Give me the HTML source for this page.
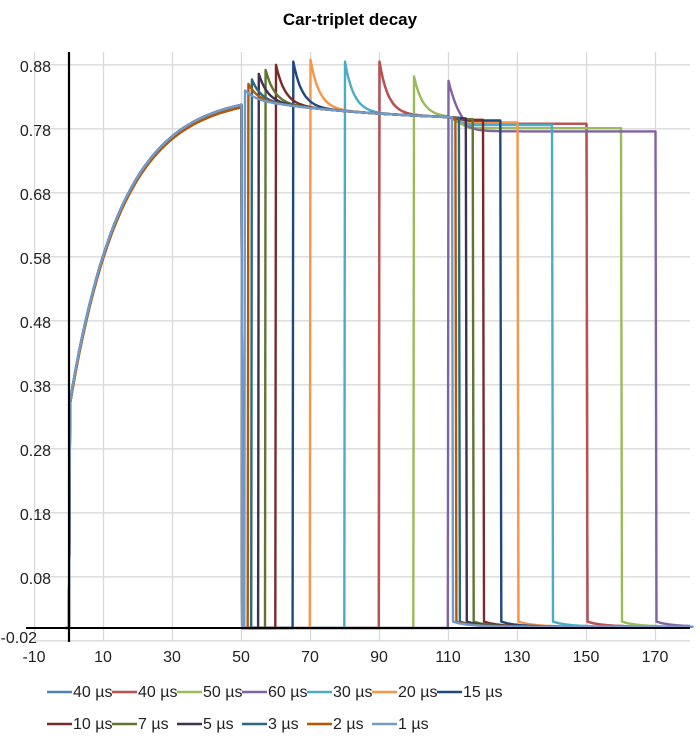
<!DOCTYPE html>
<html><head><meta charset="utf-8"><style>
html,body{margin:0;padding:0;background:#fff;}
svg{display:block;font-family:"Liberation Sans",Arial,sans-serif;}
</style></head><body>
<svg id="s" width="700" height="746" viewBox="0 0 700 746" xmlns="http://www.w3.org/2000/svg">
<text x="350" y="25" text-anchor="middle" font-size="17" font-weight="bold" fill="#000">Car-triplet decay</text>
<g id="grid" stroke="#d9d9d9" stroke-width="1.3"></g>
<g id="series" fill="none" stroke-width="2.4" stroke-linejoin="round"></g>
<line x1="69" y1="52" x2="69" y2="642" stroke="#000" stroke-width="2.2"/>
<line x1="26" y1="628" x2="690" y2="628" stroke="#000" stroke-width="2"/>
<g font-size="16" fill="#222" text-anchor="end">
<text x="51" y="72">0.88</text><text x="51" y="136">0.78</text><text x="51" y="200">0.68</text>
<text x="51" y="264">0.58</text><text x="51" y="328">0.48</text><text x="51" y="392">0.38</text>
<text x="51" y="456">0.28</text><text x="51" y="520">0.18</text><text x="51" y="584">0.08</text>
<text x="37" y="643">-0.02</text>
</g>
<g font-size="16" fill="#222" text-anchor="middle">
<text x="34" y="662">-10</text><text x="103" y="662">10</text><text x="172" y="662">30</text>
<text x="241" y="662">50</text><text x="310" y="662">70</text><text x="379" y="662">90</text>
<text x="448" y="662">110</text><text x="517" y="662">130</text><text x="586" y="662">150</text>
<text x="655" y="662">170</text>
</g>
<g id="legend" font-size="16" fill="#222"></g>
</svg>
<script>
var X=function(v){return 69+3.45*v;}, Y=function(v){return 628-640*v;};
var g=document.getElementById('grid'),h='';
for(var v=-10;v<=170;v+=20){h+='<line x1="'+X(v)+'" y1="52" x2="'+X(v)+'" y2="641"/>';}
for(var k=0;k<=9;k++){var yv=0.88-0.1*k;h+='<line x1="35" y1="'+Y(yv)+'" x2="690" y2="'+Y(yv)+'"/>';}
g.innerHTML=h;
var S=[
["40 µs","#4F81BD",40,0.885,0.788],
["40 µs","#C0504D",40,0.885,0.788],
["50 µs","#9BBB59",50,0.862,0.781],
["60 µs","#8064A2",60,0.855,0.776],
["30 µs","#4BACC6",30,0.885,0.786],
["20 µs","#F79646",20,0.888,0.790],
["15 µs","#1F497D",15,0.885,0.793],
["10 µs","#772C2A",10,0.880,0.794],
["7 µs","#5F7530",7,0.872,0.795],
["5 µs","#403152",5,0.866,0.796],
["3 µs","#276A7C",3,0.857,0.797],
["2 µs","#B65708",2,0.850,0.797],
["1 µs","#729ACA",1,0.840,0.797]];
var out='',leg='';
S.forEach(function(s,i){
 var d=s[2],pk=s[3],end=s[4],pts=[];
 pts.push([-1,0]);pts.push([0,0]);pts.push([0.3,0.35]);
 for(var t=1;t<=50;t+=1){pts.push([t,0.835-0.49*Math.exp(-t/15)-(i%3)*0.002]);}
 pts.push([50.2,0]);
 var r=50+d;pts.push([r-0.2,0]);
 var plat=function(t){var base=0.79+0.033*Math.exp(-(t-55)/40);
   if(t>110){var f=Math.min(1,(t-110)/6);base=base*(1-f)+end*f;}return base;};
 pts.push([r,pk]);
 for(var t=r+0.5;t<=110+d;t+=0.5){var p=plat(t);pts.push([t,p+(pk-p)*Math.exp(-(t-r)/2.5)]);}
 var f=110+d;pts.push([f+0.3,0.01]);
 for(var t=f+2;t<=181;t+=2){pts.push([t,0.002+0.008*Math.exp(-(t-f)/5)]);}
 var dd='';pts.forEach(function(p,j){dd+=(j?'L':'M')+X(p[0]).toFixed(1)+' '+Y(p[1]).toFixed(1);});
 out+='<path d="'+dd+'" stroke="'+s[1]+'"/>';
 var row=i<7?0:1,col=i<7?i:i-7,lx=47+col*65,ly=row?729:697;
 leg+='<line x1="'+lx+'" y1="'+(ly-5)+'" x2="'+(lx+25)+'" y2="'+(ly-5)+'" stroke="'+s[1]+'" stroke-width="2.5"/><text x="'+(lx+26)+'" y="'+ly+'">'+s[0]+'</text>';
});
document.getElementById('series').innerHTML=out;
document.getElementById('legend').innerHTML=leg;
</script>
</body></html>
